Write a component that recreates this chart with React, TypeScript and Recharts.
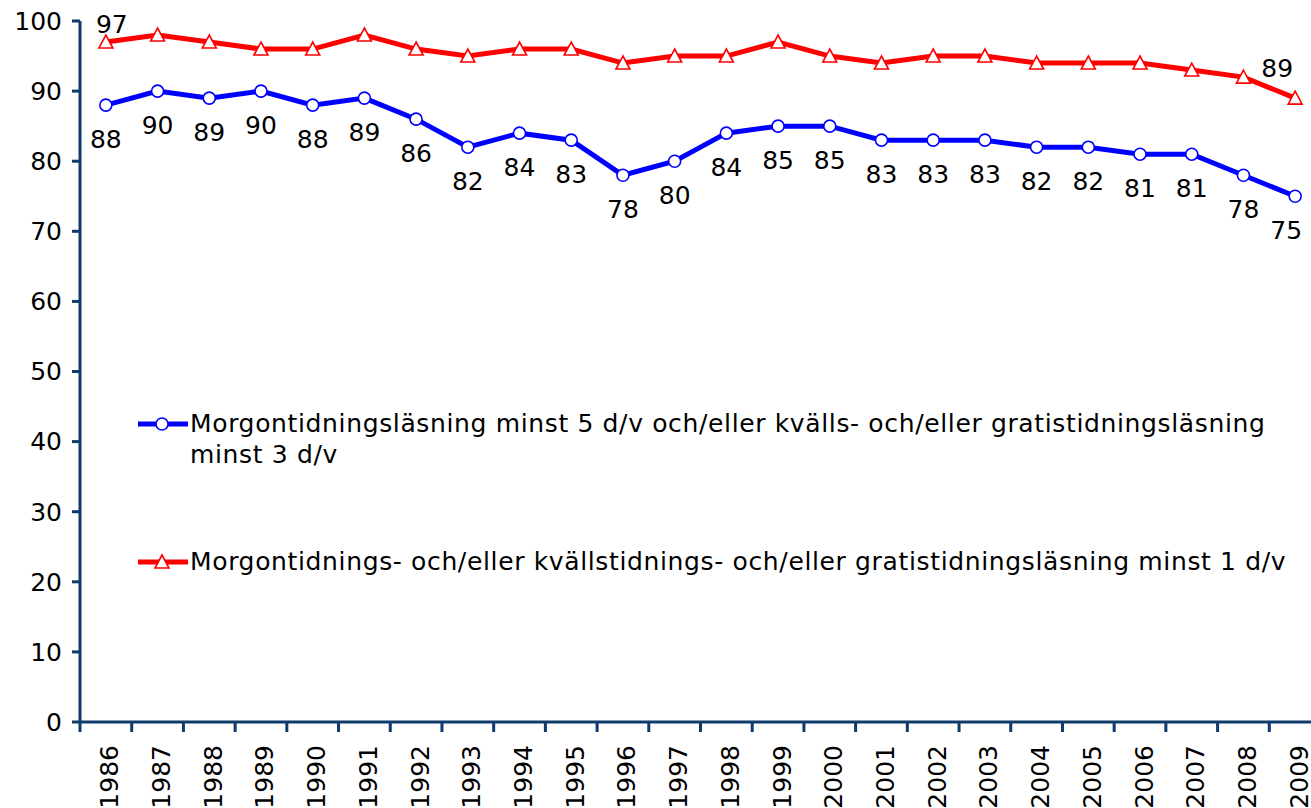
import React from 'react';
import { ComposedChart, Line, XAxis, YAxis } from 'recharts';

const years = ['1986', '1987', '1988', '1989', '1990', '1991', '1992', '1993', '1994', '1995', '1996', '1997', '1998', '1999', '2000', '2001', '2002', '2003', '2004', '2005', '2006', '2007', '2008', '2009'];
const frequentReading = [88, 90, 89, 90, 88, 89, 86, 82, 84, 83, 78, 80, 84, 85, 85, 83, 83, 83, 82, 82, 81, 81, 78, 75];
const weeklyReading = [97, 98, 97, 96, 96, 98, 96, 95, 96, 96, 94, 95, 95, 97, 95, 94, 95, 95, 94, 94, 94, 93, 92, 89];
const yTicks = [0, 10, 20, 30, 40, 50, 60, 70, 80, 90, 100];
const blueName = 'Morgontidningsläsning minst 5 d/v och/eller kvälls- och/eller gratistidningsläsning minst 3 d/v';
const redName = 'Morgontidnings- och/eller kvällstidnings- och/eller gratistidningsläsning minst 1 d/v';

const data = years.map((year, i) => ({ year, blue: frequentReading[i], red: weeklyReading[i] }));

const AXIS = '#0E3A6C';
const BLUE = '#0000FF';
const RED = '#FF0000';
const FONT = '"DejaVu Sans", Verdana, sans-serif';
const FS = 25;
const PLOT_LEFT = 80;
const PLOT_RIGHT = 1321;
const BAND = (PLOT_RIGHT - PLOT_LEFT) / years.length;

const CircleDot = (props: any) => {
  const { cx, cy } = props;
  if (cx == null || cy == null) return null;
  return <circle cx={cx} cy={cy} r={6} fill="#fff" stroke={BLUE} strokeWidth={1.6} />;
};

const TriangleDot = (props: any) => {
  const { cx, cy } = props;
  if (cx == null || cy == null) return null;
  const pts = `${cx},${cy - 7} ${cx - 7},${cy + 6} ${cx + 7},${cy + 6}`;
  return <polygon points={pts} fill="#fff" stroke={RED} strokeWidth={1.6} />;
};

const blueLabel = (props: any) => {
  const { x, y, value, index } = props;
  const dx = index === years.length - 1 ? -9 : 0;
  return (
    <text x={x + dx} y={y + 34} textAnchor="middle" dominantBaseline="central" fontFamily={FONT} fontSize={FS} fill="#000">
      {value}
    </text>
  );
};

const redLabel = (props: any) => {
  const { x, y, value, index } = props;
  if (index === 0) {
    return (
      <text x={x + 6} y={y - 18} textAnchor="middle" dominantBaseline="central" fontFamily={FONT} fontSize={FS} fill="#000">
        {value}
      </text>
    );
  }
  if (index === years.length - 1) {
    return (
      <text x={x - 18} y={y - 30} textAnchor="middle" dominantBaseline="central" fontFamily={FONT} fontSize={FS} fill="#000">
        {value}
      </text>
    );
  }
  return null;
};

const XTick = (props: any) => {
  const { x, payload } = props;
  const bx = x - BAND / 2;
  return (
    <g>
      <line x1={bx} x2={bx} y1={722} y2={732} stroke={AXIS} strokeWidth={3} />
      <text
        transform={`translate(${x + 4},${745}) rotate(-90)`}
        textAnchor="end"
        dominantBaseline="central"
        fontFamily={FONT}
        fontSize={FS}
        fill="#000"
      >
        {payload.value}
      </text>
    </g>
  );
};

const legendItems = [
  { name: blueName, color: BLUE, shape: 'circle', top: 408 },
  { name: redName, color: RED, shape: 'triangle', top: 546 },
];

const ChartLegend = () => (
  <>
    {legendItems.map((it) => (
      <div key={it.name} style={{ position: 'absolute', left: 138, top: it.top, display: 'flex', alignItems: 'flex-start' }}>
        <svg width={52} height={32} style={{ flex: 'none' }}>
          <line x1={0} x2={50} y1={16} y2={16} stroke={it.color} strokeWidth={5} />
          {it.shape === 'circle' ? (
            <circle cx={24} cy={16} r={6} fill="#fff" stroke={it.color} strokeWidth={1.6} />
          ) : (
            <polygon points="24,9 17,22 31,22" fill="#fff" stroke={it.color} strokeWidth={1.6} />
          )}
        </svg>
        <div style={{ fontFamily: FONT, fontSize: FS, lineHeight: '31px', color: '#000', maxWidth: 1125, letterSpacing: 0.64 }}>{it.name}</div>
      </div>
    ))}
  </>
);

export default function App() {
  return (
    <div style={{ width: 1311, height: 808, overflow: 'hidden', position: 'relative', background: '#fff' }}>
      <style>{'body{margin:0;overflow:hidden;}'}</style>
      <ComposedChart width={1325} height={808} data={data} margin={{ top: 21, right: 4, bottom: 0, left: 0 }}>
        <YAxis
          domain={[0, 100]}
          ticks={yTicks}
          width={80}
          interval={0}
          axisLine={{ stroke: AXIS, strokeWidth: 3 }}
          tickLine={{ stroke: AXIS, strokeWidth: 3 }}
          tickSize={8}
          tickMargin={10}
          tick={{ fontFamily: FONT, fontSize: FS, fill: '#000' }}
        />
        <XAxis
          dataKey="year"
          height={86}
          interval={0}
          padding={{ left: BAND / 2, right: BAND / 2 }}
          axisLine={{ stroke: AXIS, strokeWidth: 3 }}
          tickLine={false}
          tickSize={0}
          tick={<XTick />}
        />
        <Line
          dataKey="blue"
          name={blueName}
          stroke={BLUE}
          strokeWidth={5}
          dot={<CircleDot />}
          activeDot={false}
          label={blueLabel}
          isAnimationActive={false}
        />
        <Line
          dataKey="red"
          name={redName}
          stroke={RED}
          strokeWidth={5}
          dot={<TriangleDot />}
          activeDot={false}
          label={redLabel}
          isAnimationActive={false}
        />
      </ComposedChart>
      <ChartLegend />
    </div>
  );
}
